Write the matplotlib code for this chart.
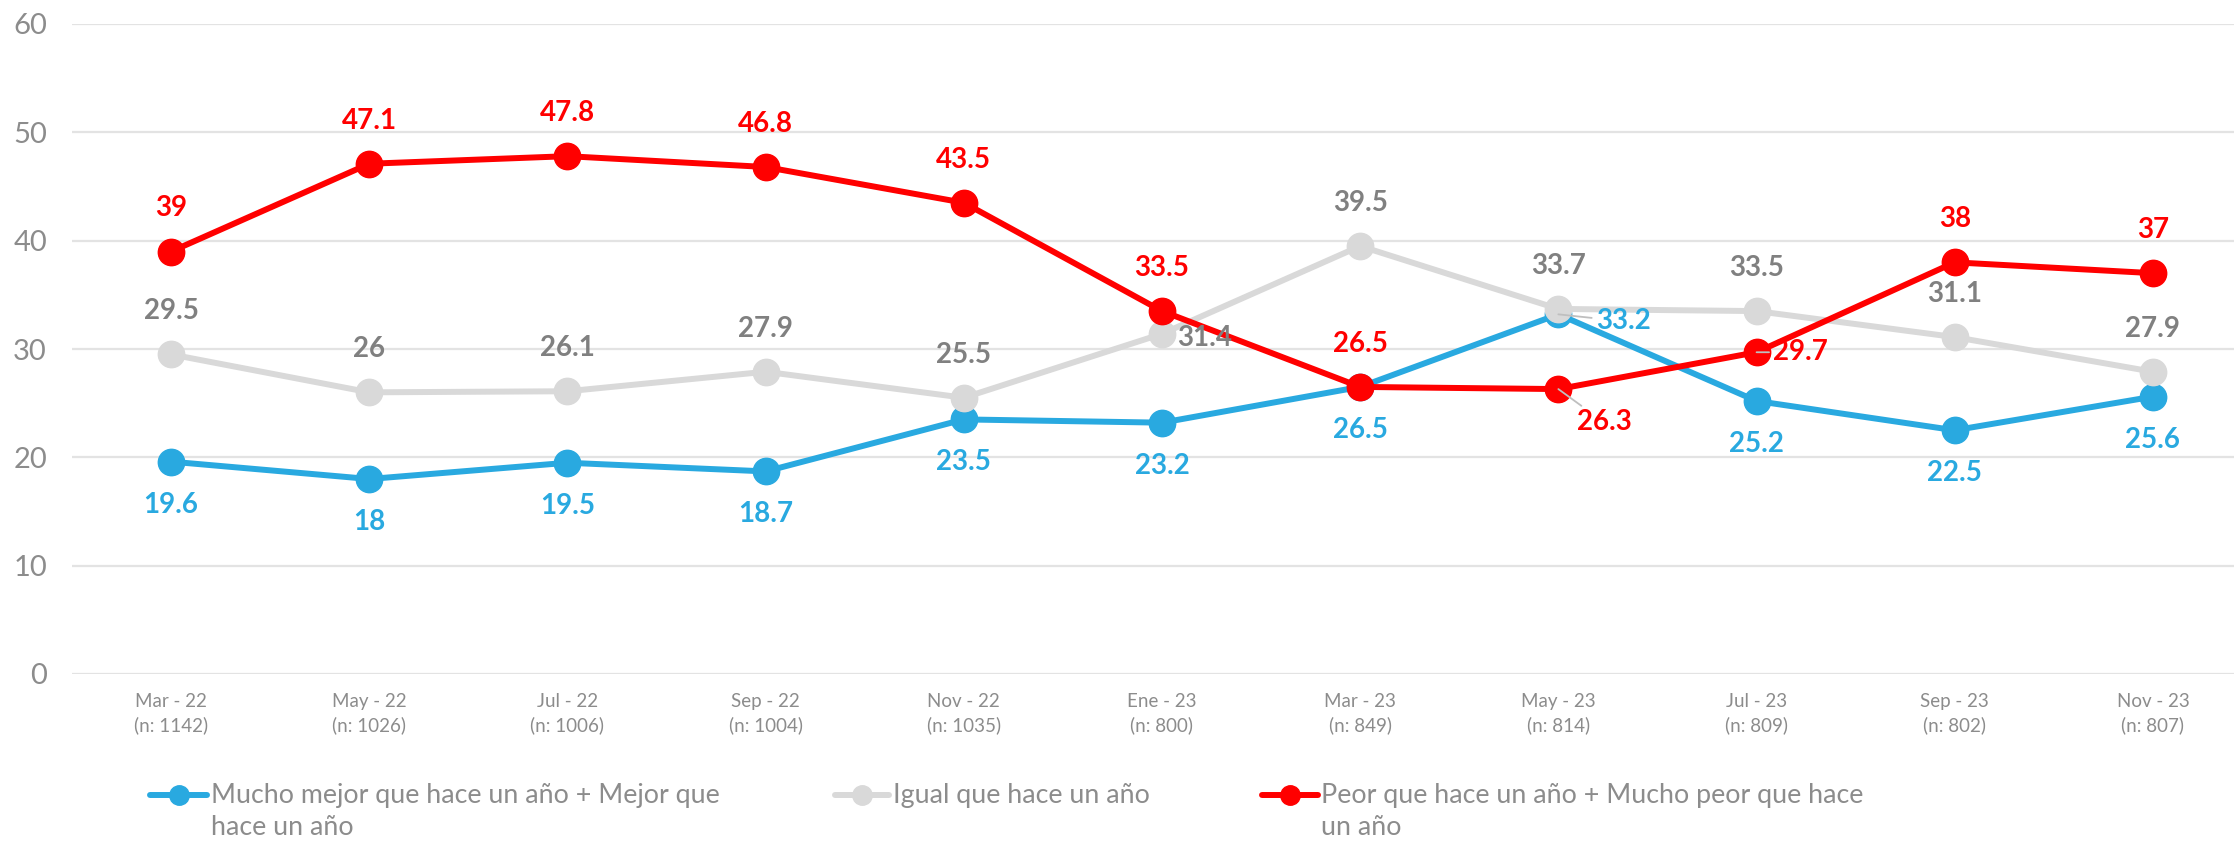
import matplotlib
matplotlib.use("Agg")
import matplotlib.pyplot as plt
from matplotlib.lines import Line2D

plt.rcParams['font.family'] = ['Lato', 'DejaVu Sans']

categories = ["Mar - 22", "May - 22", "Jul - 22", "Sep - 22", "Nov - 22", "Ene - 23",
              "Mar - 23", "May - 23", "Jul - 23", "Sep - 23", "Nov - 23"]
sample_sizes = ["1142", "1026", "1006", "1004", "1035", "800", "849", "814", "809", "802", "807"]

mejor = [19.6, 18, 19.5, 18.7, 23.5, 23.2, 26.5, 33.2, 25.2, 22.5, 25.6]
igual = [29.5, 26, 26.1, 27.9, 25.5, 31.4, 39.5, 33.7, 33.5, 31.1, 27.9]
peor = [39, 47.1, 47.8, 46.8, 43.5, 33.5, 26.5, 26.3, 29.7, 38, 37]

series_names = ["Mucho mejor que hace un año + Mejor que\nhace un año",
                "Igual que hace un año",
                "Peor que hace un año + Mucho peor que hace\nun año"]

# label placement per point
mejor_pos = ['b', 'b', 'b', 'b', 'b', 'b', 'b', 'r2', 'b', 'b', 'b']
igual_pos = ['a', 'a', 'a', 'a', 'a', 'r1', 'a', 'a', 'a', 'a', 'a']
peor_pos = ['a', 'a', 'a', 'a', 'a', 'a', 'a', 'br', 'r3', 'a', 'a']

BLUE = '#29A9E0'
GRAY = '#D9D9D9'
GRAY_TXT = '#808080'
RED = '#FF0000'
TICK = '#8C8C8C'

W, H = 2234, 842
fig = plt.figure(figsize=(W / 100, H / 100), dpi=100)
left_px, right_px = 72, 2252
top_px, bot_px = 24, 674
ax = fig.add_axes([left_px / W, (H - bot_px) / H, (right_px - left_px) / W, (bot_px - top_px) / H])

x = list(range(len(categories)))
for vals, col in [(mejor, BLUE), (igual, GRAY), (peor, RED)]:
    ax.plot(x, vals, color=col, lw=4.3, marker='o', markersize=19,
            markerfacecolor=col, markeredgecolor=col, zorder=3, solid_capstyle='round')

ax.set_xlim(-0.5, len(categories) - 0.5)
ax.set_ylim(0, 60)
ax.set_yticks(range(0, 61, 10))
ax.yaxis.grid(True, color='#E3E3E3', lw=1.6)
ax.set_axisbelow(True)
for s in ax.spines.values():
    s.set_visible(False)
ax.tick_params(axis='y', length=0, pad=18, labelsize=21, labelcolor=TICK)
ax.tick_params(axis='x', length=0, pad=14, labelsize=13.5, labelcolor=TICK)
ax.set_xticks(x)
ax.set_xticklabels([f"{c}\n(n: {n})" for c, n in zip(categories, sample_sizes)], linespacing=1.4)


def fmt(v):
    return f"{v:g}"


def place(vals, pos, col):
    for i, (v, p) in enumerate(zip(vals, pos)):
        kw = dict(xy=(i, v), textcoords='offset points', color=col, fontsize=20,
                  fontweight='bold', va='center', zorder=5)
        if p == 'a':
            ax.annotate(fmt(v), xytext=(0, 31), ha='center', **kw)
        elif p == 'b':
            ax.annotate(fmt(v), xytext=(0, -31), ha='center', **kw)
        elif p == 'r1':
            ax.annotate(fmt(v), xytext=(11, -3), ha='left', **kw)
        elif p == 'r2':
            ax.annotate(fmt(v), xytext=(27, -5), ha='left',
                        arrowprops=dict(arrowstyle='-', color='#BFBFBF', lw=1.3,
                                        shrinkA=1, shrinkB=0), **kw)
        elif p == 'r3':
            ax.annotate(fmt(v), xytext=(12, 0), ha='left',
                        arrowprops=dict(arrowstyle='-', color='#BFBFBF', lw=1.3,
                                        shrinkA=1, shrinkB=0), **kw)
        elif p == 'br':
            ax.annotate(fmt(v), xytext=(33, -24), ha='center',
                        arrowprops=dict(arrowstyle='-', color='#BFBFBF', lw=1.3,
                                        shrinkA=1, shrinkB=0), **kw)


place(mejor, mejor_pos, BLUE)
place(igual, igual_pos, GRAY_TXT)
place(peor, peor_pos, RED)

# legend drawn manually
leg_y = (H - 795) / H
entries = [(150, 207, 211, BLUE), (835, 889, 893, GRAY), (1262, 1318, 1321, RED)]
for (x0, x1, xt, col), name in zip(entries, series_names):
    fig.add_artist(Line2D([x0 / W, x1 / W], [leg_y, leg_y], transform=fig.transFigure,
                          color=col, lw=4.3, solid_capstyle='round'))
    fig.add_artist(Line2D([(x0 + x1) / 2 / W], [leg_y], transform=fig.transFigure,
                          color=col, marker='o', markersize=14, lw=0))
    fig.text(xt / W, leg_y + 12 / H, name, ha='left', va='top', fontsize=19.3,
             color=TICK, linespacing=1.33)

fig.savefig("out.png", dpi=100, facecolor='white')
